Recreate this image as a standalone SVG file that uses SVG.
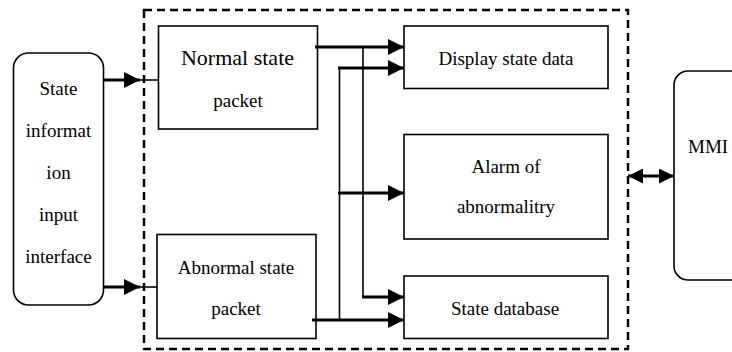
<svg xmlns="http://www.w3.org/2000/svg" width="732" height="352" viewBox="0 0 732 352" font-family="'Liberation Serif', 'DejaVu Serif', serif">
<defs>
<marker id="ah" markerUnits="userSpaceOnUse" markerWidth="16" markerHeight="16" viewBox="0 0 16 16" refX="16" refY="8" orient="auto">
<path d="M0,0 L16,8 L0,16 Z" fill="#000"/>
</marker>
<marker id="ah2" markerUnits="userSpaceOnUse" markerWidth="15" markerHeight="15" viewBox="0 0 15 15" refX="15" refY="7.5" orient="auto-start-reverse">
<path d="M0,0 L15,7.5 L0,15 Z" fill="#000"/>
</marker>
<style>
.box{fill:#fff;stroke:#000;stroke-width:1.6}
.t{font-family:'Liberation Serif','DejaVu Serif',serif;font-size:19px;fill:#000;text-anchor:middle}
.thick{stroke:#000;stroke-width:3;fill:none}
.thin{stroke:#000;stroke-width:1.6;fill:none}
</style>
</defs>
<rect width="732" height="352" fill="#fff"/>
<rect id="boundary" x="144" y="10" width="484" height="339" fill="none" stroke="#000" stroke-width="2.5" stroke-dasharray="8,5"/>
<g id="input">
<rect class="box" x="13.5" y="53" width="90" height="252" rx="15"/>
<text class="t" x="58.5" y="95">State</text>
<text class="t" x="58.5" y="137">informat</text>
<text class="t" x="58.5" y="179">ion</text>
<text class="t" x="58.5" y="221">input</text>
<text class="t" x="58.5" y="263">interface</text>
</g>
<g id="normal">
<rect class="box" x="158.5" y="26" width="159" height="103"/>
<text class="t" x="237.5" y="65" style="font-size:22px">Normal state</text>
<text class="t" x="238" y="107">packet</text>
</g>
<g id="abnormal">
<rect class="box" x="157" y="234.5" width="159" height="104"/>
<text class="t" x="236" y="274">Abnormal state</text>
<text class="t" x="236" y="315">packet</text>
</g>
<g id="display">
<rect class="box" x="404" y="26" width="204" height="62.5"/>
<text class="t" x="506" y="65">Display state data</text>
</g>
<g id="alarm">
<rect class="box" x="404" y="134.5" width="204" height="104.5"/>
<text class="t" x="506" y="173">Alarm of</text>
<text class="t" x="506" y="213">abnormalitry</text>
</g>
<g id="database">
<rect class="box" x="404" y="276" width="204" height="62.5"/>
<text class="t" x="505" y="315">State database</text>
</g>
<g id="mmi">
<rect class="box" x="674" y="71" width="80" height="209" rx="14"/>
<text class="t" x="688" y="153" style="text-anchor:start">MMI</text>
</g>
<g id="connectors">
<line class="thick" x1="104" y1="80" x2="140" y2="80" marker-end="url(#ah)"/>
<line class="thin" x1="140" y1="80" x2="158" y2="80"/>
<line class="thick" x1="104" y1="287" x2="140" y2="287" marker-end="url(#ah)"/>
<line class="thin" x1="140" y1="287" x2="157" y2="287"/>
<line class="thick" x1="315" y1="47" x2="404" y2="47" marker-end="url(#ah)"/>
<line class="thick" x1="338" y1="68" x2="404" y2="68" marker-end="url(#ah)"/>
<line class="thin" x1="363" y1="47" x2="363" y2="297"/>
<line class="thin" x1="339.5" y1="68" x2="339.5" y2="320"/>
<line class="thick" x1="338" y1="193" x2="404" y2="193" marker-end="url(#ah)"/>
<line class="thick" x1="362" y1="297" x2="404" y2="297" marker-end="url(#ah)"/>
<line class="thick" x1="312" y1="320" x2="404" y2="320" marker-end="url(#ah)"/>
<line class="thick" x1="628" y1="176" x2="674" y2="176" marker-start="url(#ah2)" marker-end="url(#ah2)"/>
</g>
</svg>
